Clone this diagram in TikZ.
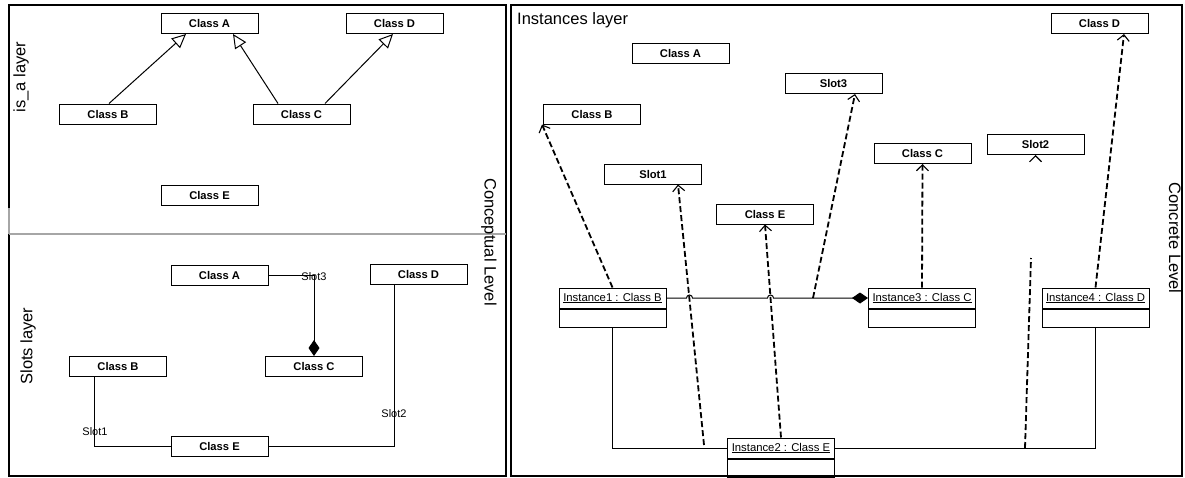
\documentclass[tikz,border=0pt]{standalone}
\usepackage{fontspec}
\setmainfont{Liberation Sans}
\usetikzlibrary{arrows.meta}
\begin{document}
\begin{tikzpicture}[x=1pt,y=-1pt,
  cls/.style={draw=black, line width=1pt, inner sep=0pt, minimum width=97pt, minimum height=20pt,
    font=\fontsize{11.2}{11.2}\selectfont\bfseries},
  insthead/.style={draw=black, line width=1pt, inner sep=0pt, minimum width=107pt, minimum height=20pt,
    font=\fontsize{11.3}{11.3}\selectfont},
  instbody/.style={draw=black, line width=1pt, inner sep=0pt, minimum width=107pt, minimum height=18pt},
  layer/.style={font=\fontsize{16.5}{16.5}\selectfont, inner sep=0pt},
  slotlbl/.style={font=\fontsize{11}{11}\selectfont, inner sep=0pt},
  isa/.style={line width=1pt, -{Triangle[open, length=14pt, width=13pt, fill=white]}},
  instof/.style={line width=1.8pt, dash pattern=on 6pt off 3pt},
  inst/.style={instof, -{Straight Barb[length=6pt, width=12pt, line width=1.1pt]}},
  assoc/.style={line width=1pt, draw=black},
  comp/.style={assoc, -{Diamond[length=16pt, width=11pt]}},
  frame/.style={line width=2.2pt},
]
\useasboundingbox (0,0) rectangle (1185,477);

% frames of the two levels
\draw[frame] (9,5) rectangle (506,476);
\draw[frame] (511,5) rectangle (1182,476);
\draw[gray!70, line width=1.4pt] (9,234) -- (506,234);
\draw[gray!70, line width=2.2pt] (9,208) -- (9,234);

% level and layer titles
\node[layer, rotate=90] (lisa) at (21,77) {is\_a layer};
\node[layer, rotate=90] (lslots) at (28,346) {Slots layer};
\node[layer, rotate=-90] (lconc) at (489,242) {Conceptual Level};
\node[layer, rotate=-90] (lconcr) at (1175,238) {Concrete Level};
\node[layer, anchor=west] (linst) at (517,20) {Instances layer};

% is_a layer
\node[cls] (tA) at (209.5,23.5) {Class A};
\node[cls] (tD) at (394.5,23.5) {Class D};
\node[cls] (tB) at (108,114) {Class B};
\node[cls] (tC) at (301.5,114) {Class C};
\node[cls] (tE) at (209.5,195) {Class E};
\draw[isa] ([xshift=1pt]tB.north) -- ([xshift=-23.5pt]tA.south);
\draw[isa] ([xshift=-23.5pt]tC.north) -- ([xshift=23.5pt]tA.south);
\draw[isa] ([xshift=23.5pt]tC.north) -- ([xshift=-1.5pt]tD.south);

% slots layer
\node[cls] (sA) at (219.5,275.5) {Class A};
\node[cls] (sD) at (418.5,274.5) {Class D};
\node[cls] (sB) at (118,366.5) {Class B};
\node[cls] (sC) at (314,366.5) {Class C};
\node[cls] (sE) at (219.5,446.5) {Class E};
\draw[comp] (sA.east) -| (sC.north);
\draw[assoc] ([xshift=-24pt]sB.south) |- (sE.west);
\draw[assoc] (sE.east) -| ([xshift=-24.5pt]sD.south);
\node[slotlbl] (l3) at (314,277) {Slot3};
\node[slotlbl] (l1) at (95,432) {Slot1};
\node[slotlbl] (l2) at (394,414) {Slot2};

% instances layer: classes and slots
\node[cls] (rA) at (680.5,53.5) {Class A};
\node[cls] (rB) at (592,114) {Class B};
\node[cls] (rS1) at (653,174) {Slot1};
\node[cls] (rE) at (765,214) {Class E};
\node[cls] (rS3) at (833.5,83.5) {Slot3};
\node[cls] (rC) at (922.5,153.5) {Class C};
\node[cls] (rS2) at (1035.5,144.5) {Slot2};
\node[cls] (rD) at (1099.5,23.5) {Class D};

% instances
\node[insthead] (i1) at (612.5,298) {\underline{Instance1 : Class B}};
\node[instbody, anchor=north] (i1b) at (i1.south) {};
\node[insthead] (i2) at (781,448) {\underline{Instance2 : Class E}};
\node[instbody, anchor=north] (i2b) at (i2.south) {};
\node[insthead] (i3) at (922,298) {\underline{Instance3 : Class C}};
\node[instbody, anchor=north] (i3b) at (i3.south) {};
\node[insthead] (i4) at (1095.5,298) {\underline{Instance4 : Class D}};
\node[instbody, anchor=north] (i4b) at (i4.south) {};

% links between instances
\draw[comp] (i1.east) -- (686.5,298) arc[start angle=180, end angle=360, radius=3]
  -- (767.5,298) arc[start angle=180, end angle=360, radius=3] -- (i3.west);
\draw[assoc] (i1b.south) |- (i2.west);
\draw[assoc] (i2.east) -| (i4b.south);

% instance-of dependencies
\coordinate (d2s) at (704,445);
\coordinate (d4s) at (813,298);
\coordinate (d6s) at (1025,448);
\coordinate (d6e) at (1031,258);
\draw[inst] (i1.north) -- ([xshift=-1pt]rB.south west);
\draw[inst] (d2s) -- ([xshift=25pt]rS1.south);
\draw[inst] (i2.north) -- (rE.south);
\draw[inst] (d4s) -- ([xshift=21.5pt]rS3.south);
\draw[inst] (i3.north) -- (rC.south);
\draw[instof] (d6s) -- (d6e);
\draw[-{Straight Barb[length=6pt, width=12pt, line width=1.1pt]}, line width=1.1pt] ([yshift=-0.5pt]rS2.south) -- (rS2.south);
\draw[inst] (i4.north) -- ([xshift=24.5pt]rD.south);
\end{tikzpicture}
\end{document}
